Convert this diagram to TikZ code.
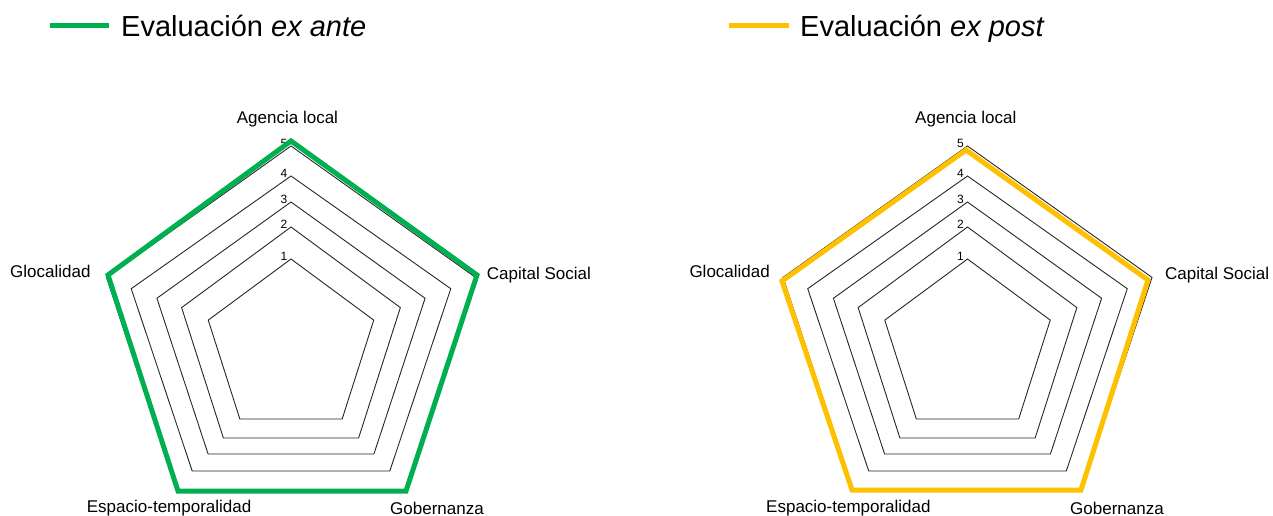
\documentclass[tikz,border=0pt]{standalone}
\usepackage{fontspec}
\setmainfont{Liberation Sans}
\definecolor{exante}{RGB}{0,176,80}
\definecolor{expost}{RGB}{255,192,0}

\begin{document}
\begin{tikzpicture}
[   x=1pt, y=-1pt,
    grid/.style={draw=black!85,line width=0.9pt,line join=miter},
    score/.style={draw=#1,line width=5pt,line join=miter},
    axis/.style={font=\fontsize{17}{20}\selectfont,inner sep=0pt,anchor=base west},
    tick/.style={font=\fontsize{12}{14}\selectfont,inner sep=0pt,anchor=base},
    legend/.style={font=\fontsize{29}{34}\selectfont,inner sep=0pt,anchor=base west},
]
\useasboundingbox (0,0) rectangle (1273,516);

% legend
\coordinate (ga) at (50,26);
\coordinate (gb) at (109,26);
\coordinate (ya) at (729,26);
\coordinate (yb) at (789,26);
\draw[score=exante] (ga) -- (gb);
\draw[score=expost] (ya) -- (yb);
\node[legend] (ante) at (121,37) {Evaluación \textit{ex ante}};
\node[legend] (post) at (800,37) {Evaluación \textit{ex post}};

% grid pentagons, levels 1..5
\foreach \cx/\c in {291/a,967.5/b}{
  \foreach \t/\b/\rx/\n in {259/419/87/1, 227/438/115/2, 202/454/141/3, 176/471/168/4, 146/490/194/5}{
    \pgfmathsetmacro{\ry}{(\b-\t)/1.809}
    \pgfmathsetmacro{\cy}{\t+\ry}
    \draw[grid] (\cx,\t) -- (\cx+0.951*\rx,\cy-0.309*\ry) -- (\cx+0.588*\rx,\b)
       -- (\cx-0.588*\rx,\b) -- (\cx-0.951*\rx,\cy-0.309*\ry) -- cycle;
    \node[tick] (tick\c\n) at (\cx-7,\t+1) {\n};
  }
}

% scores
\draw[score=exante] (291,141) -- (477,275) -- (406,491) -- (178,491) -- (108,275) -- cycle;
\draw[score=expost] (966,150) -- (1148,280) -- (1081,490) -- (852,490) -- (782,281) -- cycle;

% axis labels, left chart
\node[axis] (agA) at (236.7,124) {Agencia local};
\node[axis] (csA) at (486.7,279) {Capital Social};
\node[axis] (goA) at (390,514) {Gobernanza};
\node[axis] (esA) at (86.7,512) {Espacio-temporalidad};
\node[axis] (glA) at (10,277) {Glocalidad};

% axis labels, right chart
\node[axis] (agB) at (915,124) {Agencia local};
\node[axis] (csB) at (1165,279) {Capital Social};
\node[axis] (goB) at (1070,514) {Gobernanza};
\node[axis] (esB) at (766,512) {Espacio-temporalidad};
\node[axis] (glB) at (689.3,277) {Glocalidad};

\end{tikzpicture}
\end{document}
